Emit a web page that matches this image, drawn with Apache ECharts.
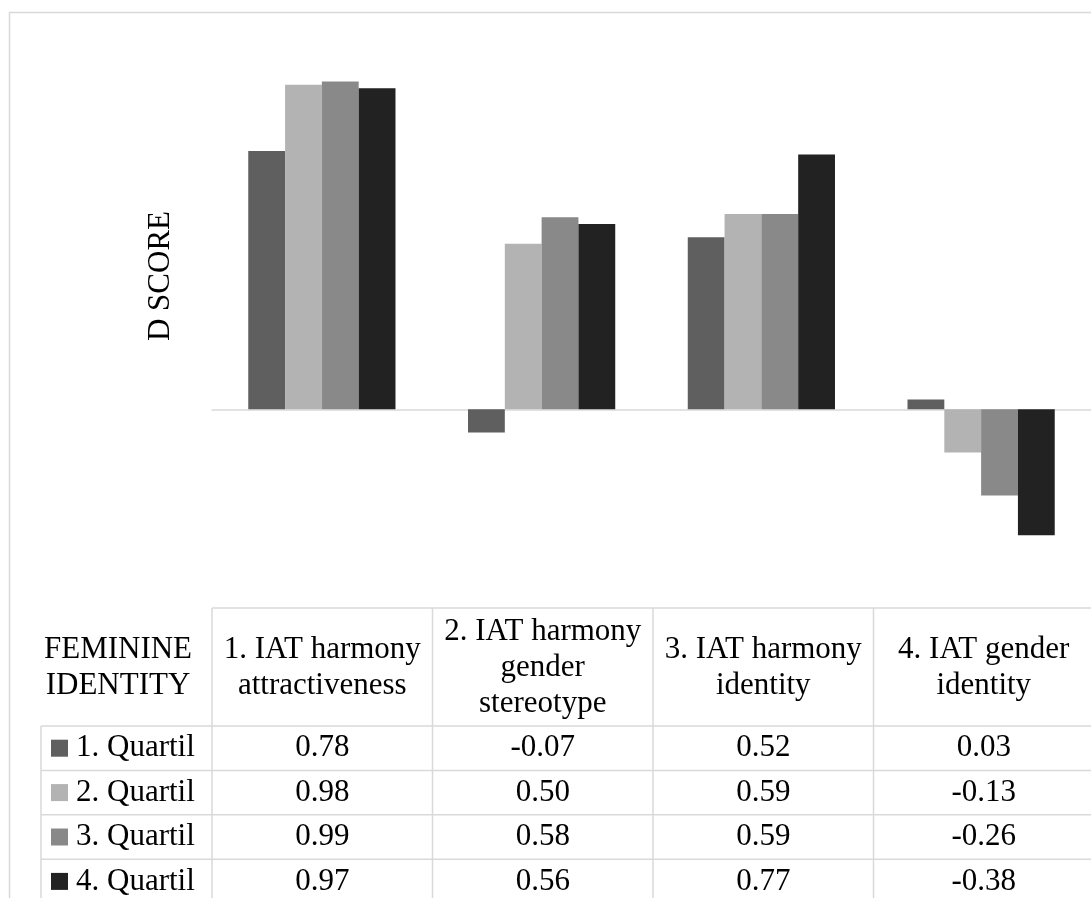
<!DOCTYPE html>
<html style="height: 100%">
	<head>
		<meta charset="utf-8" />
		<title>D score by feminine identity</title>
		<script src="https://cdn.jsdelivr.net/npm/echarts@6/dist/echarts.min.js"></script>
	</head>
	<body style="height: 100%; margin: 0; background: #fff">
		<div id="container" style="width: 1091px; height: 898px"></div>
		<script type="text/javascript">
			let categories = [
				"1. IAT harmony attractiveness",
				"2. IAT harmony gender stereotype",
				"3. IAT harmony identity",
				"4. IAT gender identity",
			];
			// same headers, wrapped the way the table shows them
			let headerLabels = [
				"1. IAT harmony\nattractiveness",
				"2. IAT harmony\ngender\nstereotype",
				"3. IAT harmony\nidentity",
				"4. IAT gender\nidentity",
			];
			let seriesNames = ["1. Quartil", "2. Quartil", "3. Quartil", "4. Quartil"];
			let quartil1 = [0.78, -0.07, 0.52, 0.03];
			let quartil2 = [0.98, 0.50, 0.59, -0.13];
			let quartil3 = [0.99, 0.58, 0.59, -0.26];
			let quartil4 = [0.97, 0.56, 0.77, -0.38];
			let allValues = [quartil1, quartil2, quartil3, quartil4];
			let colors = ["#5f5f5f", "#b3b3b3", "#898989", "#222222"];

			// layout (plot area runs off the right edge, like the source crop)
			const font = '"Liberation Serif", "Times New Roman", serif';
			const lineColor = "#d9d9d9";
			const gridLeft = 212, gridTop = 12, gridWidth = 882, gridHeight = 596;
			const colW = gridWidth / categories.length;
			const tableTop = gridTop + gridHeight; // 608
			const headerBottom = 726;
			const rowH = 44.4;
			const labelLeft = 41;
			const fontSize = 31;

			let graphics = [];

			// outer chart border
			graphics.push({
				type: "rect",
				shape: {x: 9.5, y: 12.5, width: 1200, height: 1000},
				style: {fill: null, stroke: lineColor, lineWidth: 1.5},
				silent: true,
			});

			// axis title
			graphics.push({
				type: "text",
				x: 161, y: 276,
				rotation: Math.PI / 2,
				style: {text: "D SCORE", font: fontSize + "px " + font, fill: "#000", align: "center", verticalAlign: "middle"},
			});

			// table grid lines
			let hline = (x1, x2, y) => graphics.push({
				type: "line", silent: true,
				shape: {x1: x1, y1: y, x2: x2, y2: y},
				style: {stroke: lineColor, lineWidth: 1.5},
			});
			let vline = (x, y1, y2) => graphics.push({
				type: "line", silent: true,
				shape: {x1: x, y1: y1, x2: x, y2: y2},
				style: {stroke: lineColor, lineWidth: 1.5},
			});
			hline(gridLeft, 1100, tableTop);
			for (let r = 0; r < seriesNames.length; r++) {
				hline(labelLeft, 1100, headerBottom + r * rowH);
			}
			vline(labelLeft, headerBottom, 910);
			for (let c = 0; c < categories.length; c++) {
				vline(gridLeft + c * colW, tableTop, 910);
			}

			// header
			graphics.push({
				type: "text",
				x: 118, y: 668,
				style: {text: "FEMININE\nIDENTITY", font: fontSize + "px " + font, lineHeight: 36, fill: "#000", align: "center", verticalAlign: "middle"},
			});
			headerLabels.forEach((h, c) => {
				graphics.push({
					type: "text",
					x: gridLeft + (c + 0.5) * colW, y: 668,
					style: {text: h, font: fontSize + "px " + font, lineHeight: 36, fill: "#000", align: "center", verticalAlign: "middle"},
				});
			});

			// rows: legend key + name + values
			seriesNames.forEach((name, r) => {
				let cy = headerBottom + (r + 0.5) * rowH;
				graphics.push({
					type: "rect",
					shape: {x: 51, y: cy - 8.5, width: 17, height: 17},
					style: {fill: colors[r]},
				});
				graphics.push({
					type: "text",
					x: 76, y: cy,
					style: {text: name, font: fontSize + "px " + font, fill: "#000", align: "left", verticalAlign: "middle"},
				});
				allValues[r].forEach((v, c) => {
					graphics.push({
						type: "text",
						x: gridLeft + (c + 0.5) * colW, y: cy,
						style: {text: v.toFixed(2), font: fontSize + "px " + font, fill: "#000", align: "center", verticalAlign: "middle"},
					});
				});
			});

			let container = document.getElementById("container");
			let chart = echarts.init(container);
			chart.setOption({
				animation: false,
				backgroundColor: "#fff",
				grid: {left: gridLeft, top: gridTop, width: gridWidth, height: gridHeight},
				xAxis: {
					type: "category",
					data: categories,
					axisLine: {onZero: true, lineStyle: {color: lineColor, width: 1.5}},
					axisTick: {show: false},
					axisLabel: {show: false},
				},
				yAxis: {
					type: "value",
					min: -0.6,
					max: 1.2,
					interval: 0.2,
					axisLine: {show: false},
					axisTick: {show: false},
					axisLabel: {show: false},
					splitLine: {show: false},
				},
				series: seriesNames.map((name, i) => ({
					name: name,
					type: "bar",
					data: allValues[i],
					barGap: "0%",
					barCategoryGap: "33%",
					itemStyle: {color: colors[i]},
				})),
				graphic: graphics,
			});
		</script>
	</body>
</html>
